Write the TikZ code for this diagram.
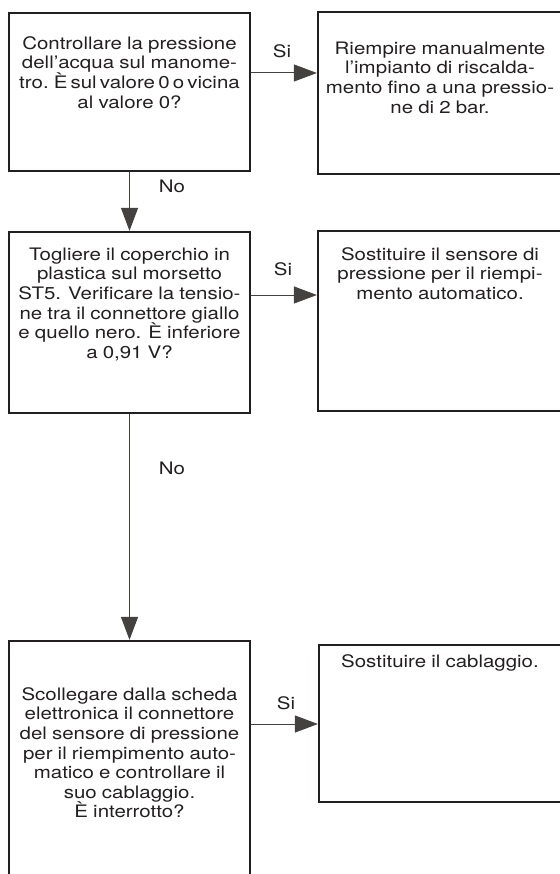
\documentclass[tikz,border=0pt]{standalone}
\usepackage{fontspec}
\setmainfont{TeX Gyre Heros}[FakeStretch=1.19, WordSpace=0.9]
\usetikzlibrary{arrows.meta}
\definecolor{ink}{HTML}{231F20}
% a line set with narrower word spaces
\newcommand{\tightline}[1]{{\spaceskip=3.2pt\relax #1}}
\tikzset{
  stepbox/.style={draw=ink, line width=2.2pt, inner sep=0pt},
  boxtext/.style={anchor=north, inner sep=0pt, align=center, text=ink,
    font=\fontsize{17.2}{19.6}\selectfont},
  flow/.style={draw=ink!85, line width=1pt,
    -{Triangle[length=23pt,width=17pt]}},
  answer/.style={inner sep=0pt, text=ink, font=\fontsize{17.2}{19.6}\selectfont}
}
\begin{document}
\begin{tikzpicture}[x=1pt,y=-1pt]
  \useasboundingbox (0,0) rectangle (559,874);

  % boxes
  \node[stepbox, minimum width=241pt, minimum height=158pt] (b1) at (129.5,92) {};
  \node[stepbox, minimum width=245pt, minimum height=162pt] (b2) at (440.5,93) {};
  \node[stepbox, minimum width=241pt, minimum height=181pt] (b3) at (129.5,322.5) {};
  \node[stepbox, minimum width=245pt, minimum height=180pt] (b4) at (440.5,321) {};
  \node[stepbox, minimum width=241pt, minimum height=260pt] (b5) at (129.5,771) {};
  \node[stepbox, minimum width=244pt, minimum height=157pt] (b6) at (441,723.5) {};

  % texts
  \node[boxtext] (t1) at (129.5,35.3) {\strut Controllare la pressione\\dell’acqua sul manome-\\\tightline{tro. È sul valore 0 o vicina}\\al valore 0?};
  \node[boxtext] (t2) at (440,40.3) {\strut Riempire manualmente\\l’impianto di riscalda-\\mento fino a una pressio-\\ne di 2 bar.};
  \node[boxtext] (t3) at (129.5,246.3) {\strut Togliere il coperchio in\\plastica sul morsetto\\ST5. Verificare la tensio-\\ne tra il connettore giallo\\e quello nero. È inferiore\\a 0,91 V?};
  \node[boxtext] (t4) at (440,246.3) {\strut Sostituire il sensore di\\pressione per il riempi-\\mento automatico.};
  \node[boxtext] (t5) at (129.5,686.3) {\strut Scollegare dalla scheda\\elettronica il connettore\\del sensore di pressione\\per il riempimento auto-\\matico e controllare il\\suo cablaggio.\\È interrotto?};
  \node[boxtext] (t6) at (440,653.3) {\strut Sostituire il cablaggio.};

  % connectors
  \coordinate (r1) at (0,73);
  \coordinate (r2) at (0,295);
  \coordinate (r3) at (0,724);
  \draw[flow] (b1.east |- r1) -- (b2.west |- r1);
  \draw[flow] (b1.south) -- (b3.north);
  \draw[flow] (b3.east |- r2) -- (b4.west |- r2);
  \draw[flow] (b3.south) -- (b5.north);
  \draw[flow] (b5.east |- r3) -- (b6.west |- r3);

  % answers
  \node[answer] (s1) at (282,51) {Si};
  \node[answer] (n1) at (172,186) {No};
  \node[answer] (s2) at (283,269) {Si};
  \node[answer] (n2) at (172,468) {No};
  \node[answer] (s3) at (286,703) {Si};
\end{tikzpicture}
\end{document}
